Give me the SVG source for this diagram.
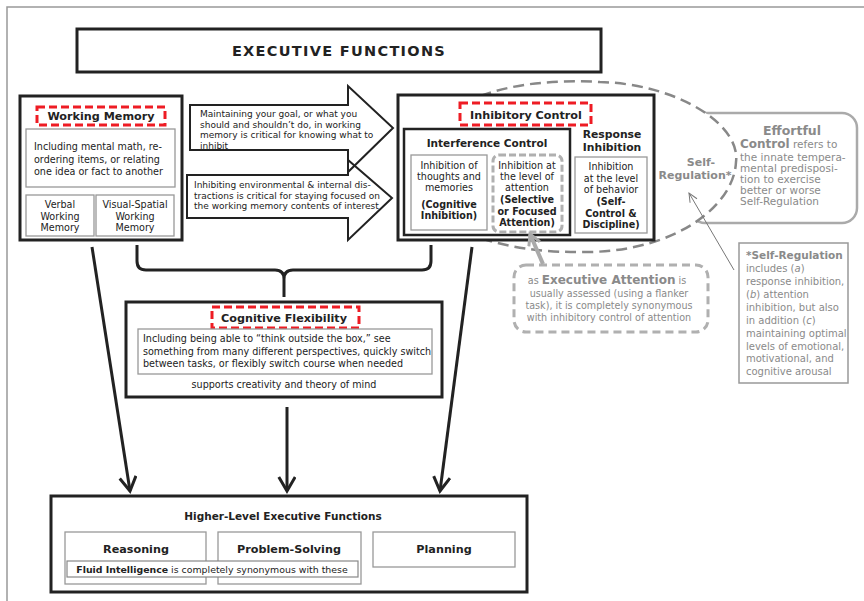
<svg xmlns="http://www.w3.org/2000/svg" width="864" height="601" viewBox="0 0 864 601">
<defs>
<style>
.t{font-family:'DejaVu Sans',Verdana,sans-serif;fill:#222;font-size:9.6px}
.c{text-anchor:middle}
.b{font-weight:bold}
.h{font-weight:bold;font-size:11.2px}
.s9{font-size:9px}
.ef{font-size:10.5px}
.sr{font-size:10px}
.box{fill:#fff;stroke:#222;stroke-width:3}
.ibox{fill:#fff;stroke:#999;stroke-width:1.3}
.red{fill:none;stroke:#ee1c24;stroke-width:3;stroke-dasharray:8 4}
.gt{fill:#8a8a8a}
.conn{fill:none;stroke:#222;stroke-width:3}
</style>
<marker id="ah" markerUnits="userSpaceOnUse" markerWidth="20" markerHeight="20" refX="15" refY="9" orient="auto">
<path d="M1,0.8 L15,9 L1,17.2" fill="none" stroke="#222" stroke-width="3"/>
</marker>
<marker id="ahg" markerUnits="userSpaceOnUse" markerWidth="16" markerHeight="16" refX="12" refY="7" orient="auto">
<path d="M1,1 L12,7 L1,13" fill="none" stroke="#aaa" stroke-width="3"/>
</marker>
<marker id="aht" markerUnits="userSpaceOnUse" markerWidth="12" markerHeight="12" refX="10" refY="5" orient="auto">
<path d="M1,1 L10,5 L1,9" fill="none" stroke="#777" stroke-width="1"/>
</marker>
</defs>
<rect x="0" y="0" width="864" height="601" fill="#fff"/>
<path d="M7,601 V7 H864" fill="none" stroke="#999" stroke-width="1.5"/>

<g id="title">
<rect class="box" x="77" y="29" width="524" height="43" stroke-width="3.5"/>
<text class="t c b" x="339" y="55.5" style="font-size:14.5px;letter-spacing:1.3px">EXECUTIVE FUNCTIONS</text>
</g>

<g id="effortful-control">
<rect x="690" y="113" width="167" height="110" rx="15" fill="#fff" stroke="#aaa" stroke-width="2.5"/>
<text class="t c b gt" x="792" y="135" style="font-size:12.5px">Effortful</text>
<text class="t gt ef" x="740" y="147.5"><tspan font-weight="bold" style="font-size:12px">Control</tspan> refers to</text>
<text class="t gt ef" x="740" y="160.5">the innate tempera-</text>
<text class="t gt ef" x="740" y="171.5">mental predisposi-</text>
<text class="t gt ef" x="740" y="182.5">tion to exercise</text>
<text class="t gt ef" x="740" y="193.5">better or worse</text>
<text class="t gt ef" x="740" y="204.5">Self-Regulation</text>
</g>

<g id="self-regulation-ellipse">
<path d="M420,170 C422,98 512,77 600,82 C678,84 741,125 736,162 C734,205 678,250 590,252 C500,254 420,230 420,170 Z" fill="#fff" stroke="#888" stroke-width="2.5" stroke-dasharray="11 6"/>
<text class="t c b gt" x="701" y="166" style="font-size:11px">Self-</text>
<text class="t c b gt" x="695" y="179" style="font-size:11px">Regulation*</text>
</g>

<g id="working-memory">
<rect class="box" x="20" y="96" width="162" height="144"/>
<rect class="red" x="37" y="107" width="128" height="18"/>
<text class="t c h" x="101" y="120">Working Memory</text>
<rect class="ibox" x="26" y="129" width="149" height="58"/>
<text class="t" x="34" y="150">Including mental math, re-</text>
<text class="t" x="34" y="162.5">ordering items, or relating</text>
<text class="t" x="34" y="175">one idea or fact to another</text>
<rect class="ibox" x="26" y="195" width="68" height="41"/>
<text class="t c" x="60" y="208">Verbal</text>
<text class="t c" x="60" y="220">Working</text>
<text class="t c" x="60" y="231">Memory</text>
<rect class="ibox" x="96" y="195" width="78" height="41"/>
<text class="t c" x="135" y="208">Visual-Spatial</text>
<text class="t c" x="135" y="220">Working</text>
<text class="t c" x="135" y="231">Memory</text>
</g>

<g id="arrow-wm-to-ic">
<path d="M190,105 H348 V86 L393,128 L348,172 V150 H190 Z" fill="#fff" stroke="#222" stroke-width="2"/>
<text class="t s9" x="200" y="116.5">Maintaining your goal, or what you</text>
<text class="t s9" x="200" y="127.5">should and shouldn’t do, in working</text>
<text class="t s9" x="200" y="138">memory is critical for knowing what to</text>
<text class="t s9" x="200" y="148.5">inhibit</text>
</g>

<g id="arrow-ic-to-wm">
<path d="M187,175 H348 V160 L392,198 L348,240 V218 H187 Z" fill="none" stroke="#222" stroke-width="2"/>
<text class="t s9" x="194" y="188">Inhibiting environmental &amp; internal dis-</text>
<text class="t s9" x="194" y="198.5">tractions is critical for staying focused on</text>
<text class="t s9" x="194" y="209">the working memory contents of interest</text>
</g>

<g id="inhibitory-control">
<rect class="box" x="398" y="95" width="256" height="145"/>
<rect class="red" x="460" y="103" width="131" height="22"/>
<text class="t c h" x="526" y="119">Inhibitory Control</text>
<rect x="404" y="129" width="166" height="106" fill="#fff" stroke="#222" stroke-width="2.5"/>
<text class="t c b" x="487" y="147" style="font-size:10.5px">Interference Control</text>
<rect class="ibox" x="411" y="155" width="76" height="75"/>
<text class="t c" x="449" y="169">Inhibition of</text>
<text class="t c" x="449" y="180">thoughts and</text>
<text class="t c" x="449" y="191">memories</text>
<text class="t c b" x="449" y="208">(Cognitive</text>
<text class="t c b" x="449" y="219">Inhibition)</text>
<rect x="493" y="155" width="69" height="77" rx="6" fill="#fff" stroke="#b0b0b0" stroke-width="3" stroke-dasharray="7 3"/>
<text class="t c" x="527" y="169">Inhibition at</text>
<text class="t c" x="527" y="180">the level of</text>
<text class="t c" x="527" y="191">attention</text>
<text class="t c b" x="527" y="203">(Selective</text>
<text class="t c b" x="527" y="214.5">or Focused</text>
<text class="t c b" x="527" y="226">Attention)</text>
<text class="t c b" x="612" y="138" style="font-size:10.8px">Response</text>
<text class="t c b" x="612" y="151" style="font-size:10.8px">Inhibition</text>
<rect class="ibox" x="575" y="157" width="72" height="76"/>
<text class="t c" x="611" y="170">Inhibition</text>
<text class="t c" x="611" y="181.5">at the level</text>
<text class="t c" x="611" y="193">of behavior</text>
<text class="t c b" x="611" y="205">(Self-</text>
<text class="t c b" x="611" y="216.5">Control &amp;</text>
<text class="t c b" x="611" y="228">Discipline)</text>
</g>

<g id="executive-attention">
<rect x="514" y="265" width="194" height="67" rx="12" fill="#fff" stroke="#b0b0b0" stroke-width="3" stroke-dasharray="8 5"/>
<text class="t c gt" x="607" y="284">as <tspan font-weight="bold" style="font-size:12px">Executive Attention</tspan> is</text>
<text class="t c gt" x="609" y="296.5">usually assessed (using a flanker</text>
<text class="t c gt" x="609" y="308.5">task), it is completely synonymous</text>
<text class="t c gt" x="609" y="320.5">with inhibitory control of attention</text>
</g>

<g id="self-regulation-note">
<rect x="739" y="243" width="109" height="140" fill="#fff" stroke="#999" stroke-width="1.5"/>
<text class="t gt b" x="746" y="259" style="font-size:10.5px">*Self-Regulation</text>
<text class="t gt sr" x="746" y="271.5">includes (<tspan font-style="italic">a</tspan>)</text>
<text class="t gt sr" x="746" y="284.5">response inhibition,</text>
<text class="t gt sr" x="746" y="297.5">(<tspan font-style="italic">b</tspan>) attention</text>
<text class="t gt sr" x="746" y="310.5">inhibition, but also</text>
<text class="t gt sr" x="746" y="323.5">in addition (<tspan font-style="italic">c</tspan>)</text>
<text class="t gt sr" x="746" y="336.5">maintaining optimal</text>
<text class="t gt sr" x="746" y="349.5">levels of emotional,</text>
<text class="t gt sr" x="746" y="362">motivational, and</text>
<text class="t gt sr" x="746" y="375">cognitive arousal</text>
</g>

<g id="cognitive-flexibility">
<rect class="box" x="126" y="302" width="316" height="95"/>
<rect class="red" x="212" y="307" width="147" height="21"/>
<text class="t c h" x="284" y="322">Cognitive Flexibility</text>
<rect class="ibox" x="138" y="329" width="294" height="45"/>
<text class="t" x="143" y="342">Including being able to “think outside the box,” see</text>
<text class="t" x="143" y="354.5">something from many different perspectives, quickly switch</text>
<text class="t" x="143" y="367">between tasks, or flexibly switch course when needed</text>
<text class="t c" x="284" y="387.5">supports creativity and theory of mind</text>
</g>

<g id="higher-level">
<rect class="box" x="51" y="496" width="476" height="96" stroke-width="3.5"/>
<text class="t c b" x="283" y="520" style="font-size:10.5px">Higher-Level Executive Functions</text>
<rect class="ibox" x="65" y="532" width="141" height="52"/>
<rect class="ibox" x="218" y="532" width="143" height="52"/>
<rect class="ibox" x="373" y="532" width="142" height="35"/>
<text class="t c h" x="136" y="553">Reasoning</text>
<text class="t c h" x="289" y="553">Problem-Solving</text>
<text class="t c h" x="444" y="553">Planning</text>
<rect x="67" y="561" width="291" height="16" fill="#fff" stroke="#888" stroke-width="1.2"/>
<text class="t c" x="212" y="573" style="font-size:9.4px"><tspan font-weight="bold">Fluid Intelligence</tspan> is completely synonymous with these</text>
</g>

<g id="connectors">
<path class="conn" d="M137,245 V261 Q137,270 146,270 H275 Q284,270 284,279 V297 M284,279 Q284,270 293,270 H422 Q431,270 431,261 V245"/>
<line class="conn" x1="92" y1="247" x2="130" y2="491" marker-end="url(#ah)"/>
<line class="conn" x1="287" y1="407" x2="287" y2="491" marker-end="url(#ah)"/>
<line class="conn" x1="472" y1="247" x2="440" y2="491" marker-end="url(#ah)"/>
<line x1="543" y1="264" x2="530" y2="234" stroke="#aaa" stroke-width="4" marker-end="url(#ahg)"/>
<line x1="734" y1="270" x2="689" y2="193" stroke="#777" stroke-width="1" marker-end="url(#aht)"/>
</g>
</svg>
